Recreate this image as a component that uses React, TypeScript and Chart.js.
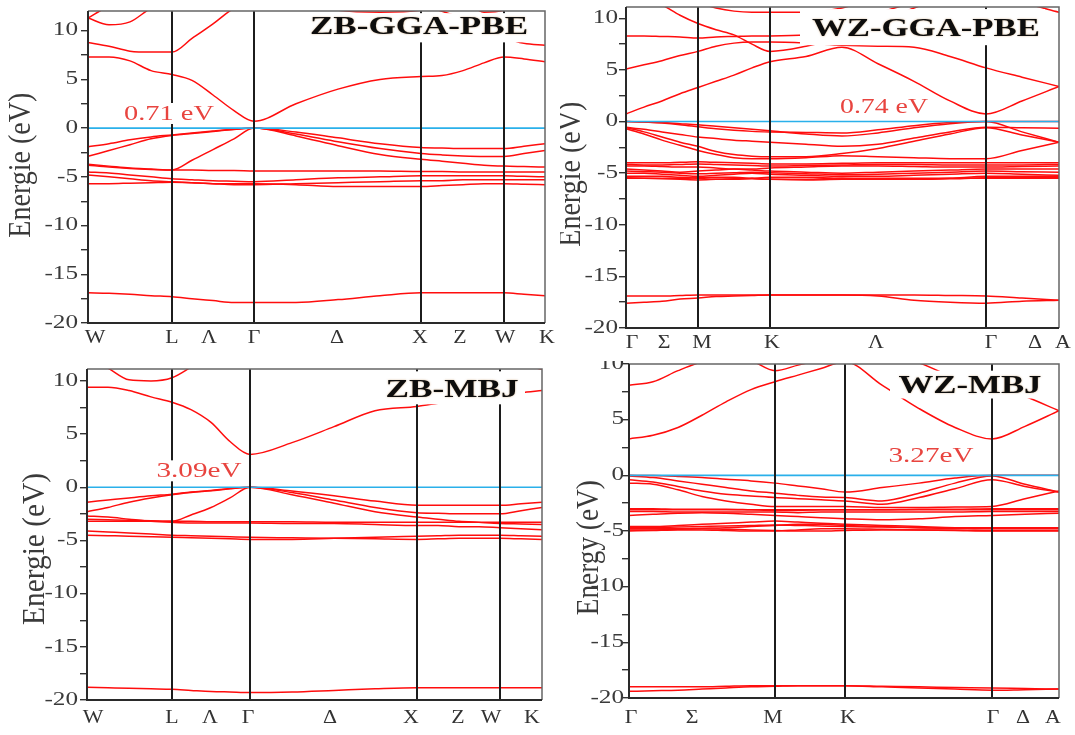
import React, { useEffect, useRef } from "react";
import { Chart, registerables } from "chart.js";

Chart.register(...registerables);

const SERIF = "'Liberation Serif', 'Times New Roman', serif";

// ---------------- ZB GGA-PBE ----------------
const zbPbeKGrid = [0, 21, 42, 63, 84, 104, 125, 146, 166, 208, 250, 292, 333, 354, 375, 396, 416, 436, 457];
const zbPbeSym = [84, 166, 333, 416];
const zbPbeKLabels = ["W", "L", "Λ", "Γ", "Δ", "X", "Z", "W", "K"];
const zbPbeKLabelPos = [7, 84, 121, 166, 249, 332, 372, 417, 459];
const zbPbeC1 = [7.3, 7.3, 6.9, 5.9, 5.5, 4.9, 3.4, 1.8, 0.71, 2.5, 4.0, 5.0, 5.3, 5.4, 5.9, 6.7, 7.3, 7.1, 6.8];
const zbPbeC2 = [8.8, 8.4, 7.9, 7.8, 7.8, 9.2, 10.7, 12.3, 13, 13, 13, 13, 12.5, 12, 11.2, 10.2, 9.3, 8.7, 8.5];
const zbPbeC3 = [11.3, 10.6, 10.9, 12.3, 13, 13, 13, 13, 13, 13, 13, 13, 13, 13, 13, 13, 13, 13, 13];
const zbPbeC4 = [11.3, 12.5, 13, 13, 13, 13, 13, 13, 13, 13, 12.1, 11.9, 12.1, 13, 13, 11.9, 12.1, 13, 13];
const zbPbeV1 = [-1.9, -1.6, -1.2, -0.9, -0.7, -0.5, -0.3, -0.12, 0, -0.4, -1.0, -1.6, -2.0, -2.05, -2.1, -2.1, -2.1, -1.85, -1.6];
const zbPbeV2 = [-2.9, -2.3, -1.7, -1.1, -0.75, -0.55, -0.35, -0.15, 0, -0.6, -1.4, -2.1, -2.6, -2.75, -2.85, -2.9, -2.9, -2.6, -2.3];
const zbPbeV3 = [-3.8, -4.0, -4.15, -4.25, -4.3, -3.3, -2.2, -1.1, 0, -0.8, -1.8, -2.7, -3.2, -3.4, -3.6, -3.8, -3.9, -3.95, -4.0];
const zbPbeV4 = [-3.7, -3.9, -4.1, -4.2, -4.3, -4.3, -4.35, -4.35, -4.4, -4.4, -4.4, -4.4, -4.45, -4.45, -4.5, -4.5, -4.5, -4.5, -4.5];
const zbPbeV5 = [-4.5, -4.6, -4.8, -5.0, -5.2, -5.3, -5.4, -5.45, -5.5, -5.3, -5.1, -5.0, -4.9, -4.9, -4.9, -4.9, -4.9, -4.95, -5.0];
const zbPbeV6 = [-4.8, -5.0, -5.2, -5.4, -5.5, -5.6, -5.7, -5.7, -5.7, -5.8, -6.0, -6.0, -6.0, -5.9, -5.8, -5.7, -5.7, -5.75, -5.8];
const zbPbeV7 = [-5.7, -5.7, -5.65, -5.6, -5.55, -5.6, -5.7, -5.8, -5.8, -5.7, -5.6, -5.5, -5.4, -5.4, -5.3, -5.3, -5.3, -5.3, -5.3];
const zbPbeV8 = [-16.9, -16.95, -17.05, -17.2, -17.3, -17.5, -17.7, -17.9, -17.9, -17.9, -17.6, -17.2, -16.9, -16.9, -16.9, -16.9, -16.9, -17.05, -17.2];
const zbPbeBands = [zbPbeC1, zbPbeC2, zbPbeC3, zbPbeC4, zbPbeV1, zbPbeV2, zbPbeV3, zbPbeV4, zbPbeV5, zbPbeV6, zbPbeV7, zbPbeV8];

// ---------------- WZ GGA-PBE ----------------
const wzPbeKGrid = [0, 18, 36, 54, 72, 90, 108, 126, 144, 180, 216, 252, 288, 324, 360, 396, 433];
const wzPbeSym = [72, 144, 360];
const wzPbeKLabels = ["Γ", "Σ", "M", "K", "Λ", "Γ", "Δ", "A"];
const wzPbeKLabelPos = [6, 38, 76, 146, 250, 365, 409, 437];
const wzPbeC1 = [0.74, 1.4, 2.0, 2.7, 3.3, 3.9, 4.5, 5.2, 5.8, 6.3, 7.2, 5.6, 3.9, 2.0, 0.74, 2.0, 3.4];
const wzPbeC2 = [5.1, 5.5, 5.9, 6.4, 6.8, 7.3, 7.6, 7.7, 7.7, 7.6, 7.4, 7.3, 7.2, 6.3, 5.2, 4.3, 3.4];
const wzPbeC3 = [8.3, 8.3, 8.25, 8.2, 8.1, 8.2, 8.25, 8.3, 8.3, 8.4, 9.2, 10.5, 11.5, 12, 12, 12, 12];
const wzPbeC4 = [12, 12, 11.3, 10.3, 9.5, 8.9, 8.4, 7.5, 6.8, 7.3, 8.2, 9.5, 11, 12, 12, 12, 12];
const wzPbeC5 = [12, 12, 12, 11.8, 11.5, 11.0, 10.7, 10.6, 10.6, 10.6, 11, 12, 12, 12, 12, 11.5, 10.6];
const wzPbeV1 = [0, -0.05, -0.15, -0.3, -0.5, -0.7, -0.85, -0.95, -1.0, -1.05, -1.1, -0.8, -0.4, -0.1, 0, 0, 0];
const wzPbeV2 = [0, -0.05, -0.1, -0.2, -0.3, -0.45, -0.6, -0.75, -0.9, -1.2, -1.4, -1.1, -0.6, -0.2, 0, -1.0, -2.0];
const wzPbeV3 = [-0.55, -0.75, -1.0, -1.25, -1.5, -1.65, -1.8, -1.9, -2.0, -2.2, -2.4, -2.2, -1.6, -1.0, -0.55, -0.6, -0.65];
const wzPbeV4 = [-0.6, -1.0, -1.5, -2.0, -2.4, -2.9, -3.2, -3.35, -3.4, -3.4, -3.1, -2.6, -1.9, -1.2, -0.6, -1.3, -2.0];
const wzPbeV5 = [-0.7, -1.2, -1.8, -2.3, -2.8, -3.2, -3.5, -3.6, -3.6, -3.5, -3.3, -3.4, -3.5, -3.6, -3.6, -2.8, -2.0];
const wzPbeV6 = [-4.0, -4.0, -4.0, -3.95, -3.9, -3.95, -4.0, -4.05, -4.1, -4.1, -4.05, -4.0, -4.0, -4.0, -4.0, -4.0, -4.0];
const wzPbeV7 = [-4.3, -4.3, -4.35, -4.4, -4.4, -4.5, -4.6, -4.6, -4.5, -4.4, -4.3, -4.3, -4.35, -4.4, -4.4, -4.35, -4.3];
const wzPbeV8 = [-4.6, -4.7, -4.8, -4.9, -4.8, -4.7, -4.6, -4.7, -4.8, -4.9, -5.0, -4.9, -4.8, -4.7, -4.6, -4.6, -4.6];
const wzPbeV9 = [-5.0, -5.0, -5.1, -5.2, -5.3, -5.2, -5.1, -5.0, -5.1, -5.2, -5.3, -5.3, -5.2, -5.1, -5.0, -5.1, -5.2];
const wzPbeV10 = [-5.3, -5.3, -5.3, -5.4, -5.5, -5.6, -5.6, -5.5, -5.4, -5.4, -5.5, -5.6, -5.6, -5.5, -5.3, -5.3, -5.3];
const wzPbeV11 = [-5.5, -5.5, -5.5, -5.5, -5.45, -5.4, -5.4, -5.5, -5.6, -5.6, -5.5, -5.5, -5.5, -5.5, -5.5, -5.5, -5.5];
const wzPbeV12 = [-16.9, -16.9, -16.9, -16.85, -16.8, -16.8, -16.8, -16.8, -16.8, -16.8, -16.8, -16.8, -16.8, -16.85, -16.9, -17.1, -17.3];
const wzPbeV13 = [-17.6, -17.5, -17.4, -17.2, -17.1, -16.95, -16.9, -16.85, -16.8, -16.8, -16.8, -16.9, -17.3, -17.5, -17.6, -17.4, -17.3];
const wzPbeV14 = [-4.15, -4.2, -4.2, -4.15, -4.1, -4.15, -4.2, -4.25, -4.3, -4.25, -4.2, -4.15, -4.15, -4.2, -4.2, -4.2, -4.15];
const wzPbeV15 = [-4.8, -4.85, -4.9, -5.0, -5.05, -5.0, -4.95, -4.9, -4.95, -5.05, -5.15, -5.1, -5.0, -4.9, -4.8, -4.85, -4.9];
const wzPbeV16 = [-5.45, -5.5, -5.55, -5.6, -5.65, -5.6, -5.55, -5.55, -5.6, -5.65, -5.6, -5.6, -5.6, -5.55, -5.45, -5.45, -5.45];
const wzPbeBands = [wzPbeC1, wzPbeC2, wzPbeC3, wzPbeC4, wzPbeC5, wzPbeV1, wzPbeV2, wzPbeV3, wzPbeV4, wzPbeV5, wzPbeV6, wzPbeV7, wzPbeV8, wzPbeV9, wzPbeV10, wzPbeV11, wzPbeV12, wzPbeV13, wzPbeV14, wzPbeV15, wzPbeV16];

// ---------------- ZB MBJ ----------------
const zbMbjKGrid = [0, 21, 42, 64, 85, 104, 124, 143, 163, 205, 247, 288, 330, 351, 372, 392, 413, 434, 455];
const zbMbjSym = [85, 163, 330, 413];
const zbMbjKLabels = ["W", "L", "Λ", "Γ", "Δ", "X", "Z", "W", "K"];
const zbMbjKLabelPos = [6, 85, 123, 161, 243, 324, 371, 404, 445];
const zbMbjC1 = [9.4, 9.4, 9.1, 8.5, 8.0, 7.3, 6.1, 4.3, 3.09, 4.2, 5.7, 7.2, 7.6, 7.9, 8.2, 8.4, 8.6, 8.9, 9.1];
const zbMbjC2 = [12.2, 11.2, 10.1, 10.0, 10.3, 11.3, 12.5, 13, 13, 13, 13, 13, 13, 13, 13, 12.5, 12, 11.5, 11.1];
const zbMbjV1 = [-1.4, -1.2, -1.0, -0.8, -0.65, -0.45, -0.3, -0.12, 0, -0.35, -0.8, -1.3, -1.7, -1.7, -1.7, -1.7, -1.7, -1.55, -1.4];
const zbMbjV2 = [-2.3, -1.9, -1.4, -1.0, -0.7, -0.5, -0.33, -0.15, 0, -0.5, -1.2, -1.9, -2.4, -2.45, -2.5, -2.5, -2.5, -2.2, -1.9];
const zbMbjV3 = [-3.2, -3.2, -3.2, -3.2, -3.2, -2.6, -1.9, -1.0, 0, -0.7, -1.5, -2.3, -2.8, -3.0, -3.2, -3.3, -3.4, -3.45, -3.5];
const zbMbjV4 = [-3.0, -3.05, -3.1, -3.15, -3.2, -3.2, -3.25, -3.25, -3.25, -3.25, -3.3, -3.3, -3.3, -3.3, -3.3, -3.3, -3.3, -3.3, -3.3];
const zbMbjV5 = [-2.7, -2.8, -3.0, -3.2, -3.3, -3.35, -3.35, -3.35, -3.35, -3.4, -3.4, -3.5, -3.6, -3.6, -3.7, -3.7, -3.8, -3.9, -4.0];
const zbMbjV6 = [-4.1, -4.2, -4.3, -4.4, -4.5, -4.55, -4.6, -4.65, -4.7, -4.75, -4.8, -4.85, -4.9, -4.85, -4.8, -4.8, -4.8, -4.85, -4.9];
const zbMbjV7 = [-4.5, -4.55, -4.6, -4.65, -4.7, -4.75, -4.8, -4.85, -4.9, -4.9, -4.8, -4.7, -4.6, -4.55, -4.5, -4.5, -4.5, -4.55, -4.6];
const zbMbjV8 = [-18.8, -18.85, -18.9, -18.95, -19.0, -19.1, -19.2, -19.25, -19.3, -19.25, -19.1, -18.95, -18.85, -18.85, -18.85, -18.85, -18.85, -18.85, -18.85];
const zbMbjBands = [zbMbjC1, zbMbjC2, zbMbjV1, zbMbjV2, zbMbjV3, zbMbjV4, zbMbjV5, zbMbjV6, zbMbjV7, zbMbjV8];

// ---------------- WZ MBJ ----------------
const wzMbjKGrid = [0, 24, 49, 73, 97, 122, 146, 169, 192, 216, 253, 290, 326, 363, 396, 430];
const wzMbjSym = [146, 216, 363];
const wzMbjKLabels = ["Γ", "Σ", "M", "K", "Γ", "Δ", "A"];
const wzMbjKLabelPos = [2, 63, 144, 219, 364, 394, 424];
const wzMbjC1 = [3.27, 3.6, 4.3, 5.4, 6.6, 7.7, 8.4, 9.0, 9.6, 10.2, 8.1, 6.0, 4.3, 3.27, 4.4, 5.8];
const wzMbjC2 = [8.1, 8.4, 9.4, 10.2, 10.6, 10.3, 9.4, 9.9, 10.4, 11, 11, 10.1, 8.8, 8.2, 7.1, 5.8];
const wzMbjV1 = [0, -0.02, -0.1, -0.2, -0.35, -0.5, -0.7, -0.95, -1.2, -1.5, -1.1, -0.7, -0.25, 0, 0, 0];
const wzMbjV2 = [-0.05, -0.2, -0.5, -0.8, -1.1, -1.4, -1.6, -1.8, -1.95, -2.0, -2.3, -1.6, -0.7, -0.05, -0.8, -1.5];
const wzMbjV3 = [-0.4, -0.6, -1.0, -1.4, -1.7, -1.85, -2.0, -2.1, -2.2, -2.3, -2.6, -2.0, -1.2, -0.4, -1.0, -1.5];
const wzMbjV4 = [-0.7, -0.8, -1.3, -1.9, -2.3, -2.6, -2.8, -2.8, -2.8, -2.8, -2.9, -2.9, -2.85, -2.8, -2.1, -1.4];
const wzMbjV5 = [-3.1, -3.1, -3.1, -3.1, -3.1, -3.1, -3.1, -3.1, -3.1, -3.1, -3.1, -3.1, -3.1, -3.1, -3.1, -3.1];
const wzMbjV6 = [-3.25, -3.25, -3.3, -3.3, -3.3, -3.3, -3.3, -3.35, -3.3, -3.3, -3.3, -3.3, -3.3, -3.25, -3.25, -3.25];
const wzMbjV7 = [-3.6, -3.5, -3.4, -3.35, -3.4, -3.5, -3.6, -3.7, -3.8, -3.9, -4.0, -3.9, -3.7, -3.6, -3.5, -3.4];
const wzMbjV8 = [-4.6, -4.6, -4.5, -4.4, -4.3, -4.2, -4.1, -4.2, -4.3, -4.4, -4.5, -4.6, -4.7, -4.7, -4.7, -4.7];
const wzMbjV9 = [-4.8, -4.8, -4.8, -4.75, -4.7, -4.6, -4.5, -4.4, -4.4, -4.5, -4.6, -4.7, -4.75, -4.8, -4.8, -4.8];
const wzMbjV10 = [-5.0, -4.95, -4.9, -4.9, -4.95, -5.0, -5.0, -4.9, -4.8, -4.8, -4.85, -4.9, -4.95, -5.0, -5.0, -5.0];
const wzMbjV11 = [-19.0, -19.0, -19.0, -19.0, -18.95, -18.9, -18.9, -18.9, -18.9, -18.9, -18.95, -19.0, -19.05, -19.1, -19.15, -19.2];
const wzMbjV12 = [-19.4, -19.35, -19.3, -19.2, -19.1, -19.0, -18.95, -18.9, -18.9, -18.9, -19.0, -19.1, -19.2, -19.3, -19.25, -19.2];
const wzMbjV13 = [-3.0, -3.0, -3.05, -3.05, -3.05, -3.1, -3.15, -3.15, -3.1, -3.1, -3.1, -3.05, -3.05, -3.0, -3.0, -3.0];
const wzMbjV14 = [-4.7, -4.7, -4.65, -4.6, -4.55, -4.5, -4.45, -4.5, -4.55, -4.6, -4.65, -4.7, -4.75, -4.75, -4.75, -4.7];
const wzMbjV15 = [-4.9, -4.9, -4.85, -4.8, -4.85, -4.9, -4.95, -5.0, -5.0, -4.95, -4.9, -4.9, -4.9, -4.95, -4.95, -4.95];
const wzMbjBands = [wzMbjC1, wzMbjC2, wzMbjV1, wzMbjV2, wzMbjV3, wzMbjV4, wzMbjV5, wzMbjV6, wzMbjV7, wzMbjV8, wzMbjV9, wzMbjV10, wzMbjV11, wzMbjV12, wzMbjV13, wzMbjV14, wzMbjV15];

type PanelCfg = {
  left: number; top: number; width: number; height: number;
  yw: number; xh: number; padTop: number; padRight: number;
  kGrid: number[]; kMax: number; bands: number[][];
  yMin: number; yMax: number; sym: number[];
  kLabels: string[]; kLabelPos: number[]; kLabelDy: number;
  yTitle: string; yTitleX: number; yTitleE: number; yTitleLen: number;
  title: string; titleK: number; titleE: number; titleW: number;
  titleBox: [number, number, number, number];
  gap: string; gapK: number; gapE: number; gapW: number;
  tickDx: number;
};

const panels: PanelCfg[] = [
  {
    left: 0, top: 0, width: 560, height: 345, yw: 88, xh: 22, padTop: 11, padRight: 15,
    kGrid: zbPbeKGrid, kMax: 457, bands: zbPbeBands, yMin: -20, yMax: 12.02, sym: zbPbeSym,
    kLabels: zbPbeKLabels, kLabelPos: zbPbeKLabelPos, kLabelDy: 15,
    yTitle: "Energie (eV)", yTitleX: 22, yTitleE: -3.8, yTitleLen: 145,
    title: "ZB-GGA-PBE", titleK: 331, titleE: 10.3, titleW: 218, titleBox: [215, 445, 11.8, 8.8],
    gap: "0.71 eV", gapK: 81, gapE: 1.45, gapW: 90, tickDx: 10,
  },
  {
    left: 560, top: 0, width: 515, height: 350, yw: 66, xh: 22, padTop: 7, padRight: 16,
    kGrid: wzPbeKGrid, kMax: 433, bands: wzPbeBands, yMin: -20, yMax: 11.1, sym: wzPbeSym,
    kLabels: wzPbeKLabels, kLabelPos: wzPbeKLabelPos, kLabelDy: 15,
    yTitle: "Energie (eV)", yTitleX: 12, yTitleE: -5.1, yTitleLen: 145,
    title: "WZ-GGA-PBE", titleK: 300, titleE: 8.9, titleW: 228, titleBox: [174, 419, 10.9, 7.4],
    gap: "0.74 eV", gapK: 258, gapE: 1.35, gapW: 88, tickDx: 8,
  },
  {
    left: 0, top: 355, width: 560, height: 380, yw: 87, xh: 35, padTop: 14, padRight: 18,
    kGrid: zbMbjKGrid, kMax: 455, bands: zbMbjBands, yMin: -20, yMax: 11.12, sym: zbMbjSym,
    kLabels: zbMbjKLabels, kLabelPos: zbMbjKLabelPos, kLabelDy: 18,
    yTitle: "Energie (eV)", yTitleX: 36, yTitleE: -5.8, yTitleLen: 152,
    title: "ZB-MBJ", titleK: 365, titleE: 9.1, titleW: 133, titleBox: [288, 438, 10.9, 7.8],
    gap: "3.09eV", gapK: 112, gapE: 1.5, gapW: 85, tickDx: 9,
  },
  {
    left: 560, top: 361, width: 515, height: 374, yw: 69, xh: 37, padTop: 3, padRight: 16,
    kGrid: wzMbjKGrid, kMax: 430, bands: wzMbjBands, yMin: -20, yMax: 10, sym: wzMbjSym,
    kLabels: wzMbjKLabels, kLabelPos: wzMbjKLabelPos, kLabelDy: 20,
    yTitle: "Energy (eV)", yTitleX: 30, yTitleE: -6.5, yTitleLen: 135,
    title: "WZ-MBJ", titleK: 341, titleE: 8.0, titleW: 143, titleBox: [261, 421, 9.4, 6.9],
    gap: "3.27eV", gapK: 302, gapE: 1.7, gapW: 85, tickDx: 5,
  },
];

function drawText(
  ctx: CanvasRenderingContext2D, text: string, x: number, y: number,
  font: string, color: string, align: CanvasTextAlign, sx: number, targetW?: number
) {
  ctx.save();
  ctx.font = font;
  ctx.fillStyle = color;
  ctx.textBaseline = "middle";
  ctx.textAlign = align;
  const w = ctx.measureText(text).width;
  const s = targetW ? targetW / w : sx;
  ctx.translate(x, y);
  ctx.scale(s, 1);
  ctx.fillText(text, 0, 0);
  ctx.restore();
  return w * s;
}

function BandPanel({ cfg }: { cfg: PanelCfg }) {
  const ref = useRef<HTMLCanvasElement>(null);

  useEffect(() => {
    if (!ref.current) return;
    const bandSets = cfg.bands.map((b) => ({
      data: cfg.kGrid.map((k, i) => ({ x: k, y: b[i] })),
      borderColor: "#ff0d0d",
      borderWidth: 1.5,
      pointRadius: 0,
      cubicInterpolationMode: "monotone" as const,
      fill: false,
      order: 1,
    }));
    const fermi = {
      data: [{ x: 0, y: 0 }, { x: cfg.kMax, y: 0 }],
      borderColor: "#2ab0ea",
      borderWidth: 1.6,
      pointRadius: 0,
      fill: false,
      order: 0,
    };

    const overlay = {
      id: "bandOverlay",
      afterDatasetsDraw(chart: any) {
        const { ctx, chartArea: a } = chart;
        const xs = chart.scales.x;
        const ys = chart.scales.y;
        ctx.save();
        // symmetry lines
        ctx.strokeStyle = "#1c1c1c";
        ctx.lineWidth = 2;
        cfg.sym.forEach((k) => {
          const px = Math.round(xs.getPixelForValue(k));
          ctx.beginPath();
          ctx.moveTo(px, a.top);
          ctx.lineTo(px, a.bottom);
          ctx.stroke();
        });
        // gap label
        const gx = xs.getPixelForValue(cfg.gapK);
        const gy = ys.getPixelForValue(cfg.gapE);
        ctx.fillStyle = "#ffffff";
        ctx.fillRect(gx - cfg.gapW / 2 - 2, gy - 11, cfg.gapW + 4, 21);
        drawText(ctx, cfg.gap, gx, gy, `22px ${SERIF}`, "#e8443f", "center", 1, cfg.gapW);
        // title box
        const [k0, k1, e0, e1] = cfg.titleBox;
        const bx0 = xs.getPixelForValue(k0);
        const bx1 = xs.getPixelForValue(k1);
        const by0 = ys.getPixelForValue(e0);
        const by1 = ys.getPixelForValue(e1);
        ctx.fillStyle = "#ffffff";
        ctx.fillRect(bx0, by0, bx1 - bx0, by1 - by0);
        ctx.save();
        ctx.shadowColor = "rgba(170,110,40,0.55)";
        ctx.shadowBlur = 2;
        drawText(ctx, cfg.title, xs.getPixelForValue(cfg.titleK), ys.getPixelForValue(cfg.titleE),
          `bold 26px ${SERIF}`, "#0d0d0d", "center", 1, cfg.titleW);
        ctx.restore();
        // frame
        ctx.strokeStyle = "#666";
        ctx.lineWidth = 1.5;
        ctx.beginPath();
        ctx.moveTo(a.left, a.top);
        ctx.lineTo(a.right, a.top);
        ctx.lineTo(a.right, a.bottom);
        ctx.stroke();
        ctx.strokeStyle = "#2a2a2a";
        ctx.lineWidth = 2;
        ctx.beginPath();
        ctx.moveTo(a.left, a.top);
        ctx.lineTo(a.left, a.bottom);
        ctx.lineTo(a.right, a.bottom);
        ctx.stroke();
        ctx.restore();
      },
      afterDraw(chart: any) {
        const { ctx, chartArea: a } = chart;
        const xs = chart.scales.x;
        const ys = chart.scales.y;
        // y tick labels
        for (let v = cfg.yMin; v <= cfg.yMax + 1e-6; v += 5) {
          drawText(ctx, `${v}`, a.left - cfg.tickDx, ys.getPixelForValue(v),
            `18px ${SERIF}`, "#3a3a3a", "right", 1.4);
        }
        // k labels
        cfg.kLabels.forEach((lab, i) => {
          drawText(ctx, lab, xs.getPixelForValue(cfg.kLabelPos[i]), a.bottom + cfg.kLabelDy,
            `19px ${SERIF}`, "#333", "center", 1.15);
        });
        // y title
        ctx.save();
        ctx.font = `26px ${SERIF}`;
        const w = ctx.measureText(cfg.yTitle).width;
        ctx.translate(cfg.yTitleX, ys.getPixelForValue(cfg.yTitleE));
        ctx.rotate(-Math.PI / 2);
        ctx.scale(cfg.yTitleLen / w, 1.2);
        ctx.fillStyle = "#3a3a3a";
        ctx.textAlign = "center";
        ctx.textBaseline = "middle";
        ctx.fillText(cfg.yTitle, 0, 0);
        ctx.restore();
      },
    };

    const chart = new Chart(ref.current, {
      type: "line",
      data: { datasets: [...bandSets, fermi] as any },
      options: {
        animation: false,
        responsive: false,
        devicePixelRatio: 1,
        events: [],
        layout: { padding: { top: cfg.padTop, right: cfg.padRight, left: 0, bottom: 0 } },
        plugins: { legend: { display: false }, tooltip: { enabled: false }, title: { display: false } },
        scales: {
          x: {
            type: "linear",
            min: 0,
            max: cfg.kMax,
            ticks: { display: false },
            grid: { display: false },
            border: { display: false },
            afterFit: (s: any) => { s.height = cfg.xh; },
          },
          y: {
            type: "linear",
            min: cfg.yMin,
            max: cfg.yMax,
            afterBuildTicks: (s: any) => {
              const t: any[] = [];
              for (let v = cfg.yMin; v <= cfg.yMax + 1e-6; v += 2.5) t.push({ value: v });
              s.ticks = t;
            },
            ticks: { display: false },
            grid: { display: true, drawOnChartArea: false, drawTicks: true, tickLength: 7, color: "#333", lineWidth: 1.4 },
            border: { display: false },
            afterFit: (s: any) => { s.width = cfg.yw; },
          },
        },
      } as any,
      plugins: [overlay],
    });
    return () => chart.destroy();
  }, [cfg]);

  return (
    <div style={{ position: "absolute", left: cfg.left, top: cfg.top, width: cfg.width, height: cfg.height }}>
      <canvas ref={ref} width={cfg.width} height={cfg.height} style={{ width: cfg.width, height: cfg.height, display: "block" }} />
    </div>
  );
}

export default function App() {
  return (
    <div style={{ position: "absolute", left: 0, top: 0, width: 1075, height: 735, background: "#ffffff", overflow: "hidden" }}>
      {panels.map((p, i) => (
        <BandPanel key={i} cfg={p} />
      ))}
    </div>
  );
}
